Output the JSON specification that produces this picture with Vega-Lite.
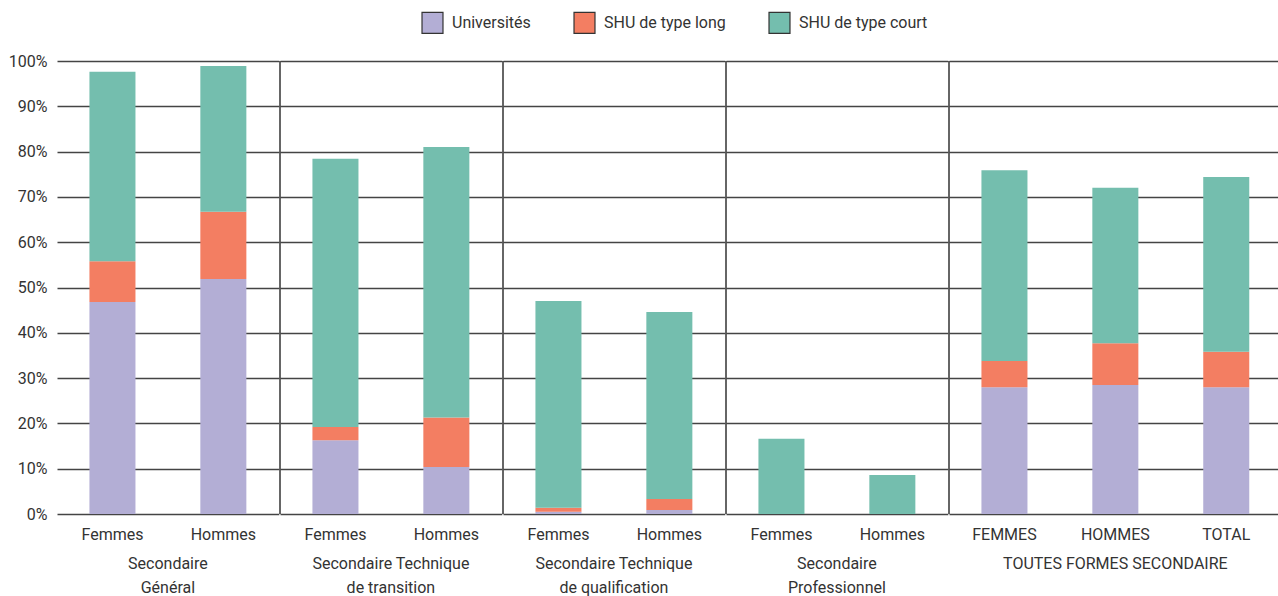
{
  "$schema": "https://vega.github.io/schema/vega-lite/v6.json",
  "padding": {"left": 8, "top": 11, "right": 0, "bottom": 0},
  "background": "white",
  "data": {"values": [
    {"groupe": "Secondaire|Général", "sexe": "Femmes", "serie": "Universités", "valeur": 46.8},
    {"groupe": "Secondaire|Général", "sexe": "Femmes", "serie": "SHU de type long", "valeur": 9.0},
    {"groupe": "Secondaire|Général", "sexe": "Femmes", "serie": "SHU de type court", "valeur": 41.8},
    {"groupe": "Secondaire|Général", "sexe": "Hommes", "serie": "Universités", "valeur": 51.9},
    {"groupe": "Secondaire|Général", "sexe": "Hommes", "serie": "SHU de type long", "valeur": 14.8},
    {"groupe": "Secondaire|Général", "sexe": "Hommes", "serie": "SHU de type court", "valeur": 32.2},
    {"groupe": "Secondaire Technique|de transition", "sexe": "Femmes", "serie": "Universités", "valeur": 16.3},
    {"groupe": "Secondaire Technique|de transition", "sexe": "Femmes", "serie": "SHU de type long", "valeur": 2.9},
    {"groupe": "Secondaire Technique|de transition", "sexe": "Femmes", "serie": "SHU de type court", "valeur": 59.2},
    {"groupe": "Secondaire Technique|de transition", "sexe": "Hommes", "serie": "Universités", "valeur": 10.4},
    {"groupe": "Secondaire Technique|de transition", "sexe": "Hommes", "serie": "SHU de type long", "valeur": 10.9},
    {"groupe": "Secondaire Technique|de transition", "sexe": "Hommes", "serie": "SHU de type court", "valeur": 59.7},
    {"groupe": "Secondaire Technique|de qualification", "sexe": "Femmes", "serie": "Universités", "valeur": 0.5},
    {"groupe": "Secondaire Technique|de qualification", "sexe": "Femmes", "serie": "SHU de type long", "valeur": 0.9},
    {"groupe": "Secondaire Technique|de qualification", "sexe": "Femmes", "serie": "SHU de type court", "valeur": 45.6},
    {"groupe": "Secondaire Technique|de qualification", "sexe": "Hommes", "serie": "Universités", "valeur": 0.9},
    {"groupe": "Secondaire Technique|de qualification", "sexe": "Hommes", "serie": "SHU de type long", "valeur": 2.4},
    {"groupe": "Secondaire Technique|de qualification", "sexe": "Hommes", "serie": "SHU de type court", "valeur": 41.3},
    {"groupe": "Secondaire|Professionnel", "sexe": "Femmes", "serie": "Universités", "valeur": 0},
    {"groupe": "Secondaire|Professionnel", "sexe": "Femmes", "serie": "SHU de type long", "valeur": 0},
    {"groupe": "Secondaire|Professionnel", "sexe": "Femmes", "serie": "SHU de type court", "valeur": 16.6},
    {"groupe": "Secondaire|Professionnel", "sexe": "Hommes", "serie": "Universités", "valeur": 0},
    {"groupe": "Secondaire|Professionnel", "sexe": "Hommes", "serie": "SHU de type long", "valeur": 0},
    {"groupe": "Secondaire|Professionnel", "sexe": "Hommes", "serie": "SHU de type court", "valeur": 8.6},
    {"groupe": "TOUTES FORMES SECONDAIRE", "sexe": "FEMMES", "serie": "Universités", "valeur": 28.0},
    {"groupe": "TOUTES FORMES SECONDAIRE", "sexe": "FEMMES", "serie": "SHU de type long", "valeur": 5.8},
    {"groupe": "TOUTES FORMES SECONDAIRE", "sexe": "FEMMES", "serie": "SHU de type court", "valeur": 42.1},
    {"groupe": "TOUTES FORMES SECONDAIRE", "sexe": "HOMMES", "serie": "Universités", "valeur": 28.5},
    {"groupe": "TOUTES FORMES SECONDAIRE", "sexe": "HOMMES", "serie": "SHU de type long", "valeur": 9.2},
    {"groupe": "TOUTES FORMES SECONDAIRE", "sexe": "HOMMES", "serie": "SHU de type court", "valeur": 34.3},
    {"groupe": "TOUTES FORMES SECONDAIRE", "sexe": "TOTAL", "serie": "Universités", "valeur": 28.0},
    {"groupe": "TOUTES FORMES SECONDAIRE", "sexe": "TOTAL", "serie": "SHU de type long", "valeur": 7.8},
    {"groupe": "TOUTES FORMES SECONDAIRE", "sexe": "TOTAL", "serie": "SHU de type court", "valeur": 38.6}
  ]},
  "facet": {
    "column": {
      "field": "groupe",
      "type": "nominal",
      "sort": ["Secondaire|Général", "Secondaire Technique|de transition", "Secondaire Technique|de qualification", "Secondaire|Professionnel", "TOUTES FORMES SECONDAIRE"],
      "header": {
        "title": null,
        "labelOrient": "bottom",
        "labelExpr": "split(datum.value, '|')",
        "labelFont": "Roboto",
        "labelFontSize": 16,
        "labelColor": "#333333",
        "labelLineHeight": 24,
        "labelBaseline": "top",
        "labelPadding": 14
      }
    }
  },
  "spacing": 0,
  "resolve": {"scale": {"x": "independent"}},
  "spec": {
    "width": {"step": 110.9},
    "height": 453,
    "layer": [
      {
        "mark": {"type": "bar", "width": {"band": 0.415}},
        "encoding": {
          "x": {
            "field": "sexe", "type": "nominal", "sort": null,
            "scale": {"paddingInner": 0, "paddingOuter": 0},
            "axis": {"title": null, "labelAngle": 0, "ticks": false, "domain": false, "labelPadding": 12, "labelFontSize": 16, "labelFont": "Roboto", "labelColor": "#333333"}
          },
          "y": {
            "field": "valeur", "type": "quantitative", "stack": "zero",
            "scale": {"domain": [0, 100], "nice": false},
            "axis": {"title": null, "values": [0, 10, 20, 30, 40, 50, 60, 70, 80, 90, 100], "labelExpr": "datum.value + '%'", "ticks": false, "domain": false, "labelPadding": 10, "labelFontSize": 16, "labelFont": "Roboto", "labelColor": "#333333", "grid": true, "gridColor": "#444444", "gridWidth": 1.3, "gridOpacity": 1}
          },
          "color": {
            "field": "serie", "type": "nominal",
            "sort": ["Universités", "SHU de type long", "SHU de type court"],
            "scale": {"domain": ["Universités", "SHU de type long", "SHU de type court"], "range": ["#b3aed5", "#f37e62", "#74beae"]},
            "legend": {
              "title": null, "orient": "none", "direction": "horizontal",
              "legendX": 364, "legendY": -50,
              "symbolType": "square", "symbolSize": 440, "symbolStrokeColor": "#333333", "symbolStrokeWidth": 1.2,
              "labelFont": "Roboto", "labelFontSize": 16, "labelColor": "#333333",
              "labelOffset": 8, "columnPadding": 40
            }
          }
        }
      },
      {
        "transform": [{"filter": "datum.serie == 'Universités' && (datum.sexe == 'Femmes' || datum.sexe == 'FEMMES') && datum.groupe != 'Secondaire|Général'"}],
        "mark": {"type": "rule", "color": "#333333", "strokeWidth": 1.5},
        "encoding": {
          "x": {"field": "sexe", "type": "nominal", "sort": null, "bandPosition": 0}
        }
      }
    ]
  },
  "config": {
    "view": {"stroke": null},
    "font": "Roboto"
  }
}
